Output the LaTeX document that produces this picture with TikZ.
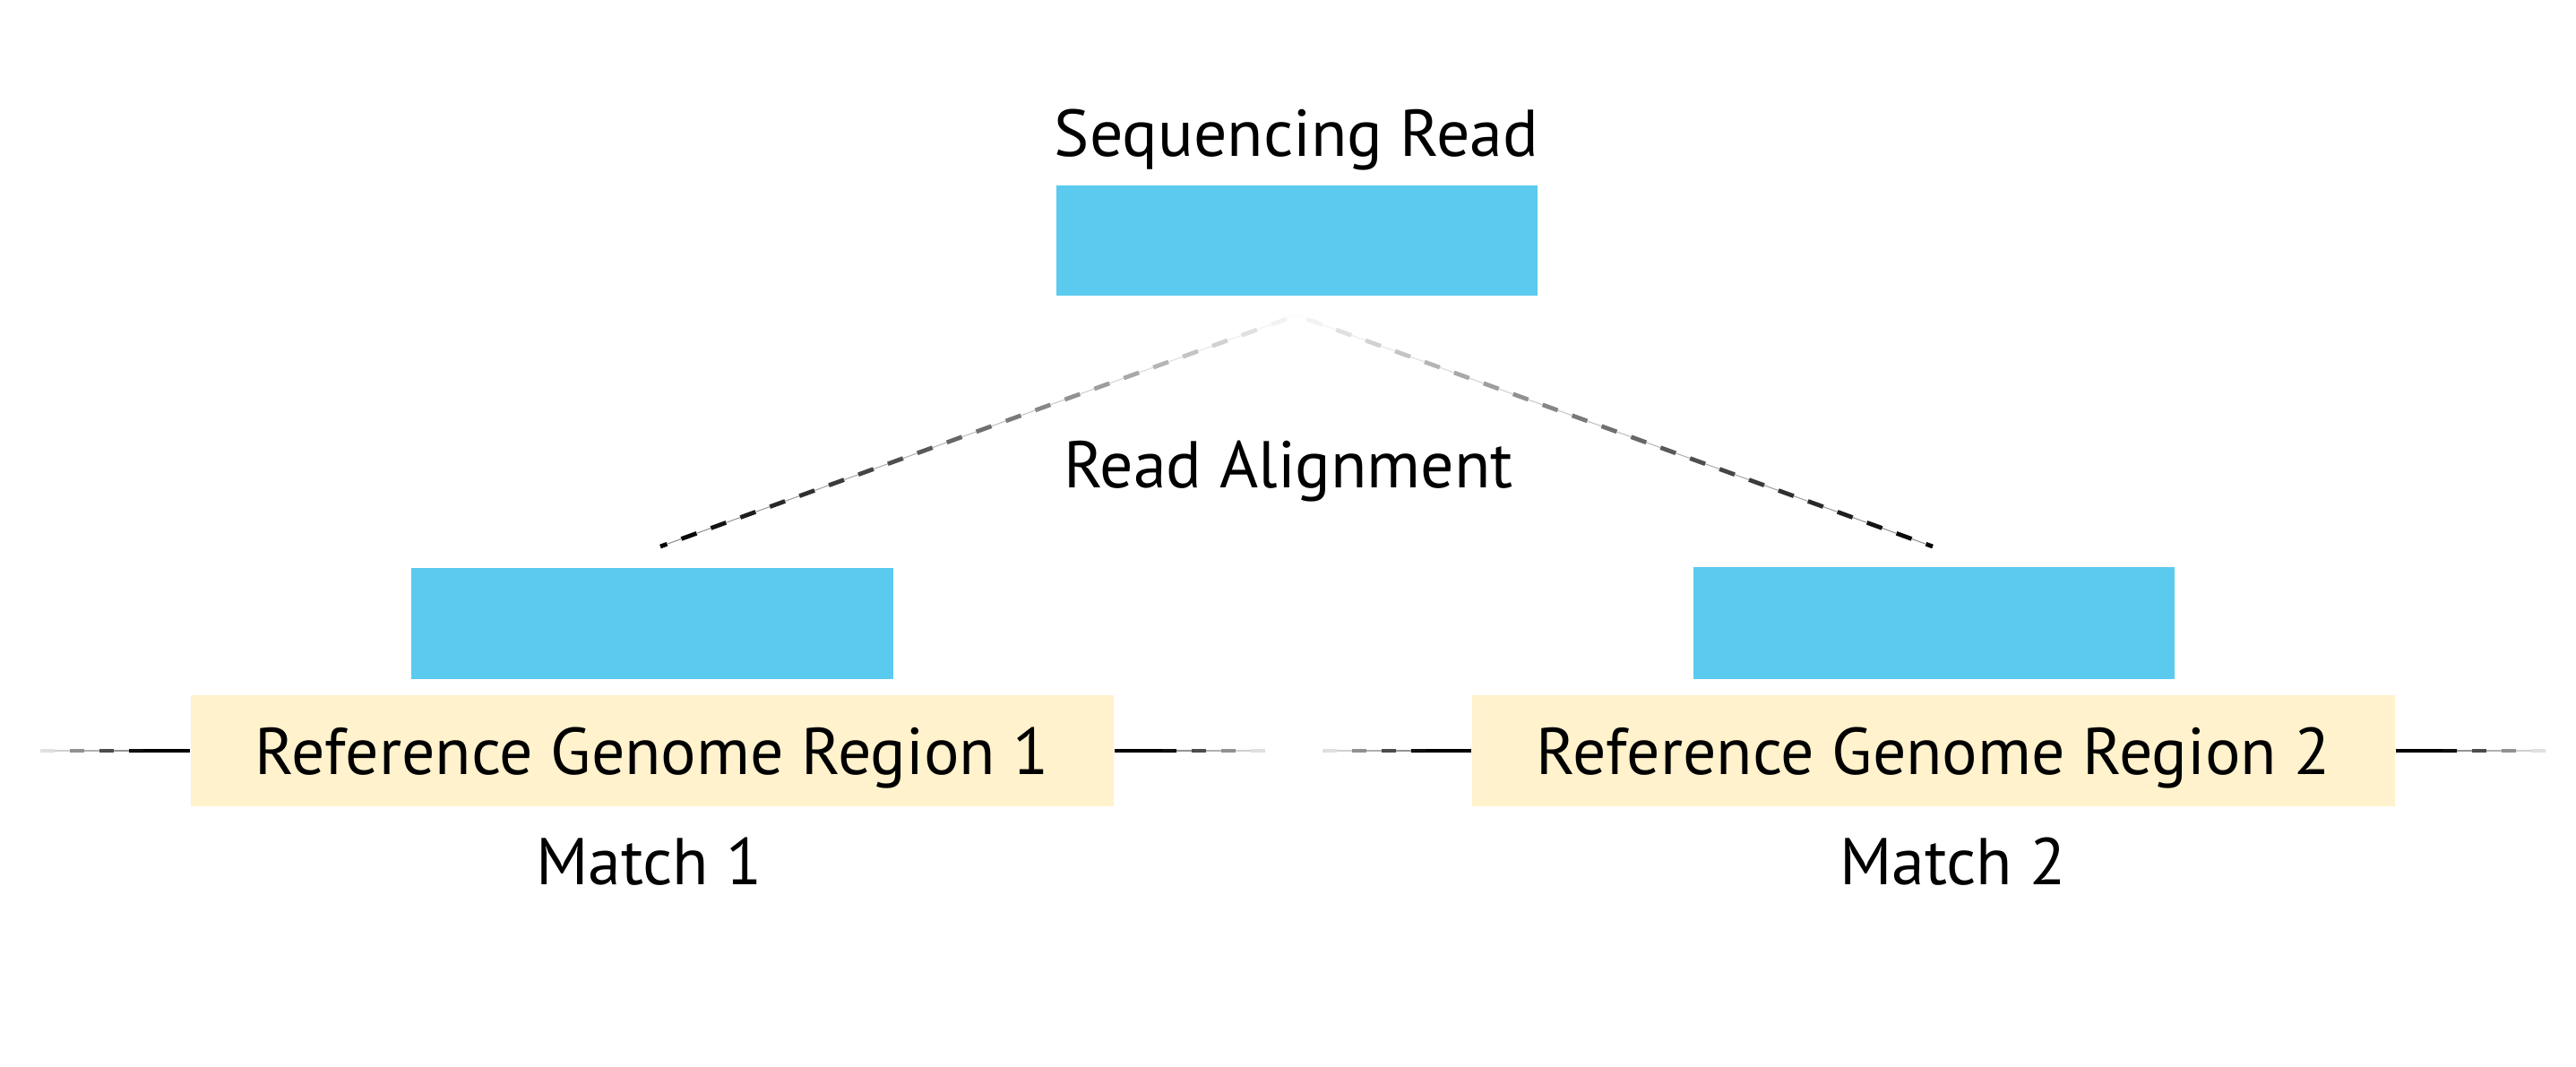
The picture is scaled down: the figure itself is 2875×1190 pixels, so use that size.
\documentclass[tikz,border=0pt]{standalone}
\usepackage{fontspec}
\setmainfont{PT Sans}
\usetikzlibrary{calc}
\definecolor{readblue}{RGB}{91,202,239}
\definecolor{genyellow}{RGB}{255,242,204}
% #1 dark end, #2 light end, #3 length (px), #4 period, #5 dash, #6 offset, #7 width
\newcommand\fadeline[7]{%
  \foreach \k in {0,...,40}{%
    \pgfmathsetmacro\ua{max(0,\k*#4+(#6))}%
    \pgfmathsetmacro\ub{min(#3,\k*#4+(#6)+#5)}%
    \pgfmathsetmacro\uc{min(#3,(\k+1)*#4+(#6))}%
    \pgfmathtruncatemacro\ok{\ua<#3 ? 1 : 0}%
    \ifnum\ok=1
      \pgfmathtruncatemacro\pc{max(3,100*(1-(\ua+\ub)/2/#3)^0.8)}%
      \pgfmathtruncatemacro\pt{max(2,\pc*0.45)}%
      \draw[line width=#7, black!\pc] ($(#1)!{\ua/#3}!(#2)$) -- ($(#1)!{\ub/#3}!(#2)$);
      \draw[line width=0.3pt, black!\pt] ($(#1)!{\ub/#3}!(#2)$) -- ($(#1)!{\uc/#3}!(#2)$);
    \fi
  }}
\begin{document}
\begin{tikzpicture}[x=0.01cm,y=-0.01cm,
  lbl/.style={font=\fontsize{21pt}{25pt}\selectfont, inner sep=0pt, text=black},
  readbox/.style={fill=readblue, draw=none, inner sep=0pt, minimum width=5.37cm, minimum height=1.24cm},
  genbox/.style={fill=genyellow, draw=none, inner sep=0pt, minimum width=10.30cm, minimum height=1.24cm,
    font=\fontsize{21pt}{25pt}\selectfont, text height=0.52cm, text depth=0pt},
  solidline/.style={line width=1.14pt, black}]
\useasboundingbox (0,0) rectangle (2875,1190);

% top read
\node[lbl, anchor=base] (seqlbl) at (1447,174) {Sequencing Read};
\node[readbox, minimum height=1.23cm] (read) at (1447.5,268.5) {};

% alignment label
\node[lbl, anchor=base] (alnlbl) at (1438,544) {Read Alignment};

% aligned reads
\node[readbox] (r1) at (728,696) {};
\node[readbox] (r2) at (2158.5,695.5) {};

% genome regions
\node[genbox] (g1) at (728,838) {Reference Genome Region 1};
\node[genbox] (g2) at (2158,838) {Reference Genome Region 2};

% match labels
\node[lbl, anchor=base] (m1) at (724.5,987) {Match 1};
\node[lbl, anchor=base] (m2) at (2179.5,987) {Match 2};

% alignment connectors (fading dashed)
\coordinate (apex) at (1447,352);
\coordinate (e1) at (737,610);
\coordinate (e2) at (2157,610);
\fadeline{e1}{apex}{755}{35}{18}{-10}{1.35pt}
\fadeline{e2}{apex}{755}{35}{18}{-10}{1.35pt}

% genome flanks
\coordinate (l1a) at (160,838);  \coordinate (l1b) at (45,838);
\coordinate (r1a) at (1297,838); \coordinate (r1b) at (1412,838);
\coordinate (l2a) at (1591,838); \coordinate (l2b) at (1476,838);
\coordinate (r2a) at (2726,838); \coordinate (r2b) at (2841,838);
\draw[solidline] (g1.west) -- (l1a);
\draw[solidline] (g1.east) -- (r1a);
\draw[solidline] (g2.west) -- (l2a);
\draw[solidline] (g2.east) -- (r2a);
\fadeline{l1a}{l1b}{115}{33}{16}{0}{1.14pt}
\fadeline{r1a}{r1b}{115}{33}{16}{0}{1.14pt}
\fadeline{l2a}{l2b}{115}{33}{16}{0}{1.14pt}
\fadeline{r2a}{r2b}{115}{33}{16}{0}{1.14pt}
\end{tikzpicture}
\end{document}
